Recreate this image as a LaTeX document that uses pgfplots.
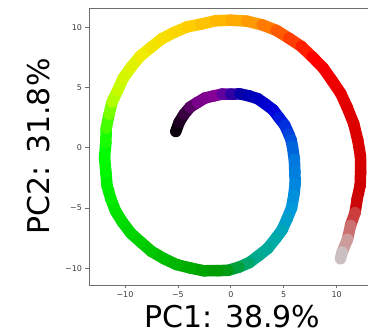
\documentclass[border=0pt]{standalone}
\usepackage{pgfplots}
\pgfplotsset{compat=1.18}
\usepackage{pgfplotstable}
\usepackage{fontspec}
\setmainfont{DejaVu Sans}
\definecolor{spine}{RGB}{110,110,110}
\definecolor{ticklab}{RGB}{60,60,60}
\pgfplotstableread{
x y t
-5.20 1.35 0.000
-4.88 2.12 0.008
-4.41 2.79 0.017
-3.85 3.37 0.031
-3.15 3.76 0.045
-2.42 4.14 0.065
-1.58 4.31 0.085
-0.80 4.46 0.105
0.00 4.45 0.125
0.85 4.47 0.140
1.70 4.31 0.155
2.55 4.07 0.168
3.28 3.62 0.180
4.00 3.14 0.193
4.54 2.51 0.205
5.10 1.87 0.215
5.48 1.13 0.225
5.70 0.64 0.232
5.82 0.10 0.238
6.00 -0.96 0.247
6.05 -2.02 0.255
6.08 -2.99 0.268
5.95 -3.96 0.280
5.74 -4.99 0.295
5.32 -5.89 0.310
4.84 -6.82 0.328
4.22 -7.55 0.345
3.49 -8.35 0.363
2.65 -8.94 0.380
1.73 -9.54 0.400
0.76 -9.91 0.420
-0.25 -10.17 0.435
-1.26 -10.20 0.450
-2.55 -10.21 0.461
-3.78 -9.99 0.472
-5.11 -9.70 0.486
-6.30 -9.21 0.500
-7.50 -8.60 0.513
-8.51 -7.83 0.525
-9.46 -7.08 0.535
-10.24 -6.17 0.545
-10.90 -5.24 0.555
-11.34 -4.23 0.565
-11.69 -3.16 0.575
-11.81 -2.02 0.585
-11.93 -0.81 0.593
-11.81 0.40 0.600
-11.77 1.62 0.612
-11.50 2.79 0.625
-11.22 3.80 0.640
-10.71 4.73 0.655
-10.17 5.77 0.668
-9.45 6.66 0.680
-8.59 7.58 0.695
-7.56 8.32 0.710
-6.52 9.05 0.720
-5.36 9.57 0.730
-4.14 10.03 0.743
-2.84 10.26 0.755
-1.43 10.54 0.765
0.00 10.59 0.775
1.50 10.51 0.790
2.96 10.20 0.805
4.28 9.75 0.815
5.48 9.10 0.825
6.66 8.41 0.835
7.69 7.55 0.845
8.72 6.63 0.858
9.58 5.56 0.870
10.39 4.50 0.880
11.00 3.34 0.890
11.61 2.00 0.898
12.00 0.60 0.905
12.25 -0.71 0.913
12.26 -2.02 0.920
12.22 -3.13 0.933
11.94 -4.23 0.945
11.74 -5.38 0.958
11.31 -6.45 0.972
11.02 -7.60 0.983
10.52 -8.66 0.993
10.36 -9.21 1.000
}\spiral
\begin{document}
\begin{tikzpicture}
\begin{axis}[
  scale only axis,
  width=279pt, height=277pt,
  xmin=-13.4, xmax=12.96, ymin=-11.39, ymax=11.6,
  axis x line*=bottom, axis y line*=left,
  axis line style={-, draw=spine, line width=0.8pt},
  tick align=outside, tick pos=left,
  major tick length=3.5pt,
  tick style={draw=spine, line width=0.8pt},
  xtick={-10,-5,0,5,10}, xticklabels={−10,−5,0,5,10},
  ytick={-10,-5,0,5,10}, yticklabels={−10,−5,0,5,10},
  ticklabel style={font=\fontsize{8}{10}\selectfont, text=ticklab},
  xlabel={PC1: 38.9\%}, ylabel={PC2: 31.8\%},
  label style={font=\fontsize{30}{36}\selectfont, inner sep=0pt},
  xlabel style={at={(rel axis cs:0.514,-0.152)}, anchor=base},
  ylabel style={at={(rel axis cs:-0.1398,0.5)}, anchor=base},
  colormap={nipy}{rgb=(0,0,0) rgb=(0.4667,0,0.5333) rgb=(0.5333,0,0.6) rgb=(0,0,0.6667) rgb=(0,0,0.8667) rgb=(0,0.4667,0.8667) rgb=(0,0.6,0.8667) rgb=(0,0.6667,0.6667) rgb=(0,0.6667,0.5333) rgb=(0,0.6,0) rgb=(0,0.7333,0) rgb=(0,0.8667,0) rgb=(0,1,0) rgb=(0.7333,1,0) rgb=(0.9333,0.9333,0) rgb=(1,0.8,0) rgb=(1,0.6,0) rgb=(1,0,0) rgb=(0.8667,0,0) rgb=(0.8,0,0) rgb=(0.8,0.8,0.8)},
  point meta min=0, point meta max=1,
]
\addplot[mesh, line width=11.5pt, line cap=round, line join=round, point meta=explicit]
  table[x=x, y=y, meta=t] {\spiral};
\draw[spine, line width=0.8pt] (rel axis cs:0,1) -- (rel axis cs:1,1);
\coordinate (bl) at (rel axis cs:0,0);
\coordinate (tr) at (rel axis cs:1,1);
\end{axis}
\pgfresetboundingbox
\path ([shift={(-89pt,-49pt)}]bl) rectangle ([shift={(0pt,8pt)}]tr);
\end{tikzpicture}
\end{document}
